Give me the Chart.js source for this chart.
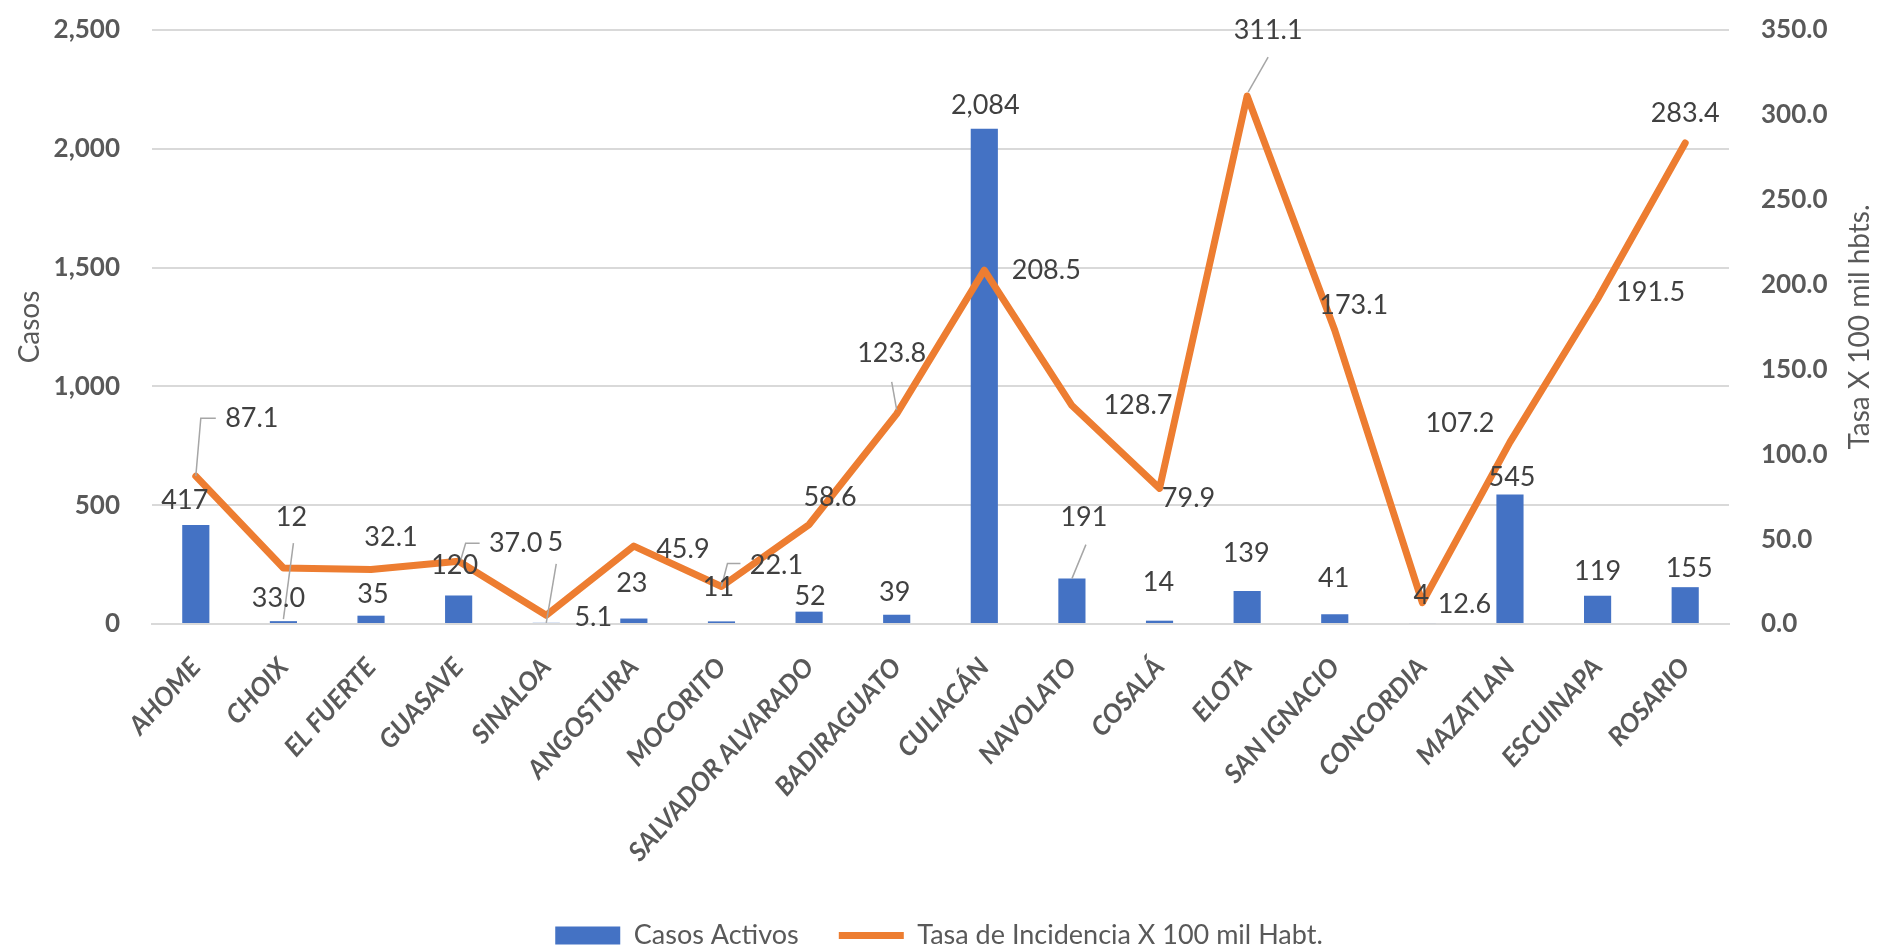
<!DOCTYPE html>
<html>
<head>
<meta charset="utf-8">
<script src="https://cdn.jsdelivr.net/npm/chart.js@4.4.1/dist/chart.umd.min.js"></script>
<style>
  html, body { margin: 0; padding: 0; background: #fff; }
  #contenedor { width: 1878px; height: 951px; }
</style>
</head>
<body>
<div id="contenedor"><canvas id="grafico"></canvas></div>
<script>
// Casos activos y tasa de incidencia por municipio (Sinaloa)
const municipios = ['AHOME', 'CHOIX', 'EL FUERTE', 'GUASAVE', 'SINALOA', 'ANGOSTURA', 'MOCORITO',
  'SALVADOR ALVARADO', 'BADIRAGUATO', 'CULIACÁN', 'NAVOLATO', 'COSALÁ', 'ELOTA', 'SAN IGNACIO',
  'CONCORDIA', 'MAZATLAN', 'ESCUINAPA', 'ROSARIO'];
const casosActivos = [417, 12, 35, 120, 5, 23, 11, 52, 39, 2084, 191, 14, 139, 41, 4, 545, 119, 155];
const tasaIncidencia = [87.1, 33.0, 32.1, 37.0, 5.1, 45.9, 22.1, 58.6, 123.8, 208.5, 128.7, 79.9,
  311.1, 173.1, 12.6, 107.2, 191.5, 283.4];
const ejeCasos = [0, 2500, 500];   // min, max, paso
const ejeTasa = [0, 350, 50];

// desplazamiento de cada etiqueta (px) respecto a su barra / punto, como en el original
const posEtiquetaBarra = [[-11, -25], [8, -104], [2, -21], [-4, -30], [9, -81], [-2, -35], [-3, -34],
  [1, -15], [-2, -22], [1, -24], [12, -61], [-1, -38], [-1, -38], [-1, -36], [-1, -28], [2, -17],
  [0, -24], [4, -19]];
const posEtiquetaTasa = [[56, -58], [-5, 30], [20, -32], [57, -18], [47, 2], [49, 3], [55, -21],
  [21, -27], [-5, -61], [62, 0], [66, 0], [29, 10], [21, -66], [19, -25], [42, 2], [-50, -19],
  [53, -7], [0, -30]];
// lineas guia
const guiasBarra = { 1: [[0, -2], [10, -78]], 4: [[0, 0], [10, -59]], 10: [[0, 0], [14, -34]] };
const guiasTasa = {
  0: [[0, 0], [5, -58], [20, -58]],
  3: [[2, -1], [7, -18], [21, -18]],
  6: [[0, 0], [6, -23], [19, -23]],
  8: [[0, -4], [-5, -32]],
  12: [[1, -4], [21, -39]]
};

const FUENTE = "Lato, 'Liberation Sans', Arial, sans-serif";
const GRIS = '#595959';

const etiquetasPlugin = {
  id: 'etiquetas',
  afterDatasetsDraw(chart) {
    const ctx = chart.ctx;
    const barras = chart.getDatasetMeta(1).data;
    const puntos = chart.getDatasetMeta(0).data;
    ctx.save();
    ctx.strokeStyle = '#A6A6A6';
    ctx.lineWidth = 1.5;
    const guia = (el, pts) => {
      ctx.beginPath();
      pts.forEach(([dx, dy], k) => {
        if (k === 0) ctx.moveTo(el.x + dx, el.y + dy);
        else ctx.lineTo(el.x + dx, el.y + dy);
      });
      ctx.stroke();
    };
    Object.keys(guiasBarra).forEach(i => guia(barras[i], guiasBarra[i]));
    Object.keys(guiasTasa).forEach(i => guia(puntos[i], guiasTasa[i]));

    ctx.font = '27px ' + FUENTE;
    ctx.fillStyle = '#404040';
    ctx.textAlign = 'center';
    ctx.textBaseline = 'middle';
    barras.forEach((b, i) => {
      const [dx, dy] = posEtiquetaBarra[i];
      ctx.fillText(casosActivos[i].toLocaleString('en-US'), b.x + dx, b.y + dy);
    });
    puntos.forEach((p, i) => {
      const [dx, dy] = posEtiquetaTasa[i];
      ctx.fillText(tasaIncidencia[i].toFixed(1), p.x + dx, p.y + dy);
    });
    ctx.restore();
  },
  afterDraw(chart) {
    // titulo del eje derecho, leido de abajo hacia arriba
    const ctx = chart.ctx;
    const area = chart.chartArea;
    ctx.save();
    ctx.translate(1860, (area.top + area.bottom) / 2);
    ctx.rotate(-Math.PI / 2);
    ctx.font = '28px ' + FUENTE;
    ctx.fillStyle = GRIS;
    ctx.textAlign = 'center';
    ctx.textBaseline = 'middle';
    ctx.fillText('Tasa X 100 mil hbts.', 0, 0);
    ctx.restore();
  }
};

const ctx = document.getElementById('grafico').getContext('2d');
new Chart(ctx, {
  data: {
    labels: municipios,
    datasets: [{
      type: 'line',
      label: 'Tasa de Incidencia X 100 mil Habt.',
      data: tasaIncidencia,
      yAxisID: 'y1',
      borderColor: '#ED7D31',
      backgroundColor: '#ED7D31',
      borderWidth: 7,
      borderCapStyle: 'round',
      borderJoinStyle: 'round',
      pointRadius: 0,
      pointStyle: 'line',
      tension: 0
    }, {
      type: 'bar',
      label: 'Casos Activos',
      data: casosActivos,
      yAxisID: 'y',
      backgroundColor: '#4472C4',
      borderWidth: 0,
      pointStyle: 'rect',
      barPercentage: 0.31,
      categoryPercentage: 1
    }]
  },
  options: {
    responsive: true,
    maintainAspectRatio: false,
    animation: false,
    devicePixelRatio: 1,
    layout: { padding: { top: 30, left: 0, right: 0, bottom: -8 } },
    plugins: {
      tooltip: { enabled: false },
      legend: {
        position: 'bottom',
        labels: {
          usePointStyle: true,
          pointStyleWidth: 65,
          boxHeight: 18,
          padding: 40,
          color: GRIS,
          font: { family: FUENTE, size: 27 },
          sort: (a, b) => b.datasetIndex - a.datasetIndex
        }
      }
    },
    scales: {
      x: {
        grid: { display: false, drawTicks: false },
        border: { display: true, color: '#D9D9D9', width: 2 },
        ticks: {
          autoSkip: false,
          minRotation: 48,
          maxRotation: 48,
          padding: 28,
          color: GRIS,
          font: { family: FUENTE, size: 26, weight: 'bold', style: 'italic' }
        },
        afterFit: s => { s.height = 258; }
      },
      y: {
        position: 'left',
        min: ejeCasos[0],
        max: ejeCasos[1],
        grid: { color: '#D9D9D9', lineWidth: 2, drawTicks: true, tickLength: 32, tickColor: 'rgba(0,0,0,0)' },
        border: { display: false },
        ticks: {
          stepSize: ejeCasos[2],
          padding: 0,
          color: GRIS,
          font: { family: FUENTE, size: 26, weight: 'bold' },
          callback: v => v.toLocaleString('en-US')
        },
        title: {
          display: true,
          text: 'Casos',
          color: GRIS,
          font: { family: FUENTE, size: 28 },
          padding: { top: 13, bottom: 0 }
        },
        afterFit: s => { s.width = 152; }
      },
      y1: {
        position: 'right',
        min: ejeTasa[0],
        max: ejeTasa[1],
        grid: {
          display: true, drawOnChartArea: false, color: 'rgba(0,0,0,0)',
          drawTicks: true, tickLength: 32, tickColor: 'rgba(0,0,0,0)'
        },
        border: { display: false },
        ticks: {
          stepSize: ejeTasa[2],
          padding: 0,
          color: GRIS,
          font: { family: FUENTE, size: 26, weight: 'bold' },
          callback: v => v.toFixed(1)
        },
        afterFit: s => { s.width = 149; }
      }
    }
  },
  plugins: [etiquetasPlugin]
});
</script>
</body>
</html>
